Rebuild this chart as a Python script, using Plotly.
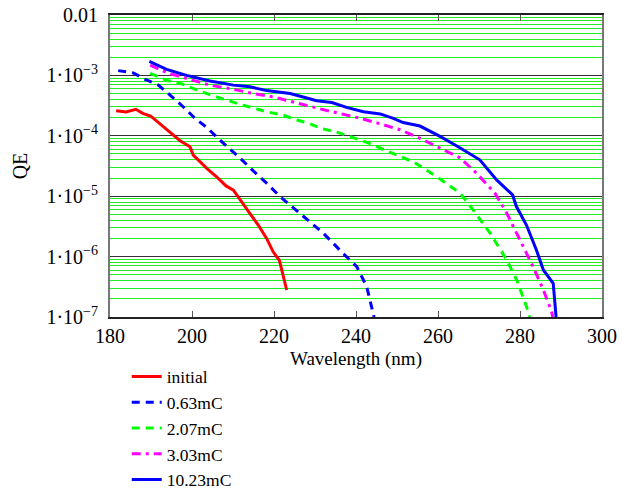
import plotly.graph_objects as go

# ---- data (wavelength nm, QE) ----
init_wl = [181.5, 183.9, 186.3, 188.0, 189.9, 192.2, 195.0, 197.1, 199.5, 200.3, 201.5, 203.6,
           206.0, 207.6, 208.3, 210.1, 211.7, 214.1, 216.2, 218.2, 219.8, 221.3, 223.1]
init_qe = [2.6e-4, 2.48e-4, 2.75e-4, 2.35e-4, 2.13e-4, 1.57e-4, 1.06e-4, 8.3e-5, 6.6e-5, 4.8e-5, 4.0e-5, 2.9e-5,
           2.1e-5, 1.62e-5, 1.48e-5, 1.26e-5, 8.7e-6, 5.2e-6, 3.3e-6, 2.0e-6, 1.2e-6, 8.7e-7, 2.8e-7]

c063_wl = [182.0, 185.7, 188.1, 191.8, 195.0, 197.9, 200.7, 203.6, 206.8, 210.1, 211.7, 215.0,
           218.6, 221.5, 227.1, 232.0, 236.9, 240.2, 242.6, 244.1, 244.4]
c063_qe = [1.2e-3, 1.1e-3, 8.9e-4, 6.9e-4, 4.5e-4, 3.0e-4, 1.95e-4, 1.38e-4, 8.5e-5, 5.5e-5, 4.3e-5, 2.6e-5,
           1.55e-5, 9.8e-6, 4.6e-6, 2.45e-6, 1.12e-6, 6.8e-7, 3.2e-7, 1.32e-7, 1.0e-7]

c207_wl = [189.8, 193.8, 197.1, 201.1, 206.0, 212.5, 218.2, 222.3, 225.1, 228.4, 231.6, 234.9,
           237.7, 241.0, 244.2, 247.5, 250.7, 254.0, 259.7, 265.4, 268.6, 272.7, 276.8, 279.2, 281.6, 282.4]
c207_qe = [1.08e-3, 8.3e-4, 7.4e-4, 5.75e-4, 4.4e-4, 3.2e-4, 2.5e-4, 2.2e-4, 1.86e-4, 1.62e-4, 1.32e-4, 1.17e-4,
           1.02e-4, 8.5e-5, 7.1e-5, 5.6e-5, 4.5e-5, 3.7e-5, 2.1e-5, 1.12e-5, 5.9e-6, 2.45e-6, 8.7e-7, 4.1e-7, 1.48e-7, 1.0e-7]

c303_wl = [189.8, 193.8, 198.7, 204.4, 210.1, 215.0, 219.8, 222.5, 226.3, 231.2, 236.1, 241.0,
           245.9, 250.7, 255.6, 260.5, 265.4, 269.4, 273.9, 276.8, 280.0, 283.2, 285.7, 287.7, 288.0]
c303_qe = [1.48e-3, 1.11e-3, 8.9e-4, 6.9e-4, 5.9e-4, 5.0e-4, 4.4e-4, 4.0e-4, 3.4e-4, 2.8e-4, 2.35e-4, 1.95e-4,
           1.58e-4, 1.26e-4, 9.1e-5, 6.2e-5, 4.3e-5, 2.4e-5, 1.12e-5, 5.2e-6, 1.86e-6, 6.8e-7, 2.8e-7, 1.23e-7, 1.0e-7]

c1023_wl = [189.6, 193.8, 198.7, 204.4, 210.1, 214.1, 218.2, 221.5, 223.9, 227.1, 230.4, 234.1,
            237.7, 241.8, 245.9, 249.1, 251.5, 255.6, 260.5, 264.6, 270.2, 274.3, 278.2, 279.1,
            281.6, 284.0, 285.7, 288.1, 288.8]
c1023_qe = [1.7e-3, 1.26e-3, 1.0e-3, 8.1e-4, 6.9e-4, 6.5e-4, 5.6e-4, 5.2e-4, 5.0e-4, 4.4e-4, 3.8e-4, 3.55e-4,
            2.95e-4, 2.5e-4, 2.3e-4, 1.95e-4, 1.66e-4, 1.45e-4, 9.8e-5, 6.8e-5, 4.0e-5, 1.86e-5, 1.05e-5, 6.8e-6,
            3.3e-6, 1.29e-6, 6.0e-7, 3.6e-7, 1.0e-7]

series_names = ["initial", "0.63mC", "2.07mC", "3.03mC", "10.23mC"]

x_ticks = [180, 200, 220, 240, 260, 280, 300]
y_tickvals = [1e-7, 1e-6, 1e-5, 1e-4, 1e-3, 1e-2]
y_ticktext = ["1·10<sup>−7</sup>", "1·10<sup>−6</sup>", "1·10<sup>−5</sup>",
              "1·10<sup>−4</sup>", "1·10<sup>−3</sup>", "0.01"]

FONT = "Liberation Serif"

fig = go.Figure()
fig.add_trace(go.Scatter(x=init_wl, y=init_qe, mode="lines", name=series_names[0],
                         line=dict(color="#ff0000", width=3)))
fig.add_trace(go.Scatter(x=c063_wl, y=c063_qe, mode="lines", name=series_names[1],
                         line=dict(color="#0000ff", width=3, dash="8px,6px")))
fig.add_trace(go.Scatter(x=c207_wl, y=c207_qe, mode="lines", name=series_names[2],
                         line=dict(color="#00ff00", width=3, dash="8px,6px")))
fig.add_trace(go.Scatter(x=c303_wl, y=c303_qe, mode="lines", name=series_names[3],
                         line=dict(color="#ff00ff", width=3, dash="9px,5px,3px,5px")))
fig.add_trace(go.Scatter(x=c1023_wl, y=c1023_qe, mode="lines", name=series_names[4],
                         line=dict(color="#0000ff", width=3)))

minor_vals = [m * 10.0 ** e for e in range(-7, -2) for m in range(2, 10)]

fig.update_layout(
    width=622, height=491,
    margin=dict(l=110, r=20, t=15, b=174, autoexpand=False),
    paper_bgcolor="white", plot_bgcolor="white",
    font=dict(family=FONT, color="black", size=20),
    showlegend=True,
    legend=dict(x=0.034, y=-0.138, xanchor="left", yanchor="top",
                font=dict(family=FONT, size=17.5), tracegroupgap=0,
                bgcolor="rgba(0,0,0,0)"),
    xaxis=dict(range=[180, 300], tickvals=x_ticks, ticks="inside", ticklen=6,
               tickcolor="#555", showgrid=False, zeroline=False,
               showline=True, linecolor="#222", linewidth=1.5, mirror="ticks",
               tickfont=dict(size=20), automargin=False, ticklabeloverflow="allow",
               title=dict(text="Wavelength (nm)", font=dict(size=19), standoff=6)),
    yaxis=dict(type="log", range=[-7, -2], tickvals=y_tickvals, ticktext=y_ticktext,
               ticks="", showgrid=True, gridcolor="#333", gridwidth=1,
               showline=True, linecolor="#777", linewidth=2, mirror=True,
               zeroline=False, tickfont=dict(size=20), ticklabelstandoff=6,
               automargin=False, ticklabeloverflow="allow",
               minor=dict(tickvals=minor_vals, showgrid=True, gridcolor="#22ee22",
                          gridwidth=1, ticks=""),
               title=dict(text="QE", font=dict(size=20), standoff=13)),
)

# remove the browser's default 8px page margin so the figure fills the window
fig.write_html("out.html", config={"displayModeBar": False},
               post_script="document.body.style.margin='0';")
